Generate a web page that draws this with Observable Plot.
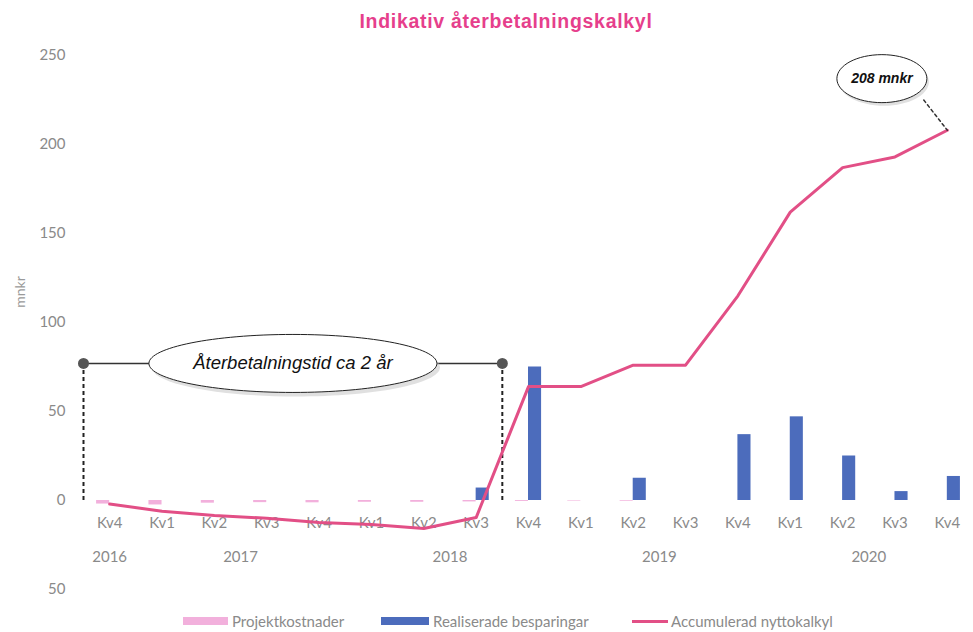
<!DOCTYPE html>
<html><head><meta charset="utf-8">
<script src="https://cdn.jsdelivr.net/npm/d3@7"></script>
<script src="https://cdn.jsdelivr.net/npm/@observablehq/plot@0.6"></script>
<style>
body{margin:0;background:#fff;}
#wrap{position:relative;width:973px;height:632px;overflow:hidden;font-family:Lato,"Open Sans",sans-serif;}
#title{position:absolute;top:9px;left:506px;transform:translateX(-50%);white-space:nowrap;font:bold 19.5px "Liberation Sans",Arial,sans-serif;color:#e63f8c;letter-spacing:0.7px;line-height:24px;}
#chart{position:absolute;top:40px;left:0;}
#ylabel{position:absolute;left:19px;top:292px;transform:translate(-50%,-50%) rotate(-90deg);font-size:14px;color:#9a9a9a;white-space:nowrap;}
.sw{position:absolute;}
.lt{position:absolute;font-size:15px;line-height:18px;color:#8a8a8a;white-space:nowrap;}
</style></head><body>
<div id="wrap">
  <div id="title">Indikativ återbetalningskalkyl</div>
  <div id="chart"></div>
  <div id="ylabel"></div>
  <div id="legend"></div>
</div>
<script>
// ---- data ----
const quarters = ["Kv4","Kv1","Kv2","Kv3","Kv4","Kv1","Kv2","Kv3","Kv4","Kv1","Kv2","Kv3","Kv4","Kv1","Kv2","Kv3","Kv4"];
const years    = [2016,2017,2017,2017,2017,2018,2018,2018,2018,2019,2019,2019,2019,2020,2020,2020,2020];
const projektkostnader      = [-2,-2.5,-1.5,-1.2,-1.3,-1,-1,-0.8,-0.5,-0.3,-0.4,0,0,0,0,0,0];
const realiseradeBesparingar = [0,0,0,0,0,0,0,7,75,0,12.5,0,37,47,25,5,13.5];
const accumuleradNyttokalkyl = [-2,-6,-8.4,-10,-12.4,-13.5,-15.7,-9.6,64,64,76,76,115,162,187,193,208];
const yTicks = [-50,0,50,100,150,200,250];
const yLabel = "mnkr";
const seriesNames = ["Projektkostnader","Realiserade besparingar","Accumulerad nyttokalkyl"];
const colors = {cost:"#f2b0dc", saving:"#4c6cbc", line:"#e24f86"};
const paybackLabel = "Återbetalningstid ca 2 år";
const paybackLevel = 77;      // mnkr level of the bracket
const paybackFrom = 0;        // first quarter index (2016 Kv4)
const paybackTo = 8;          // quarter where cumulative turns positive (2018 Kv4)
const finalCallout = {dx: -1.25, value: 237, leaderFrom: {dx: -0.45, value: 225}};

// ---- derived ----
const rows = quarters.map((q, i) => ({i, q, year: years[i], cost: projektkostnader[i], saving: realiseradeBesparingar[i], cum: accumuleradNyttokalkyl[i]}));
const yearRows = d3.groups(rows, d => d.year).map(([year, rs]) => ({year, x: d3.mean(rs, r => r.i)}));
const bw = 0.25;
const pStart = paybackFrom - 0.5, pEnd = paybackTo - 0.5;
const last = rows[rows.length - 1];
const callout = {x: last.i + finalCallout.dx, y: finalCallout.value, text: `${last.cum} mnkr`};
const leader = [{x: last.i + finalCallout.leaderFrom.dx, y: finalCallout.leaderFrom.value}, {x: last.i, y: last.cum}];

function ellipseSymbol(rx, ry) {
  const k = 0.5523;
  return {draw(ctx) {
    ctx.moveTo(rx, 0);
    ctx.bezierCurveTo(rx, ry * k, rx * k, ry, 0, ry);
    ctx.bezierCurveTo(-rx * k, ry, -rx, ry * k, -rx, 0);
    ctx.bezierCurveTo(-rx, -ry * k, -rx * k, -ry, 0, -ry);
    ctx.bezierCurveTo(rx * k, -ry, rx, -ry * k, rx, 0);
    ctx.closePath();
  }};
}

const plot = Plot.plot({
  width: 973,
  height: 565,
  marginLeft: 83,
  marginRight: 0,
  marginTop: 15,
  marginBottom: 16,
  style: {fontFamily: "Lato, 'Open Sans', sans-serif", fontSize: "15px", color: "#8a8a8a", background: "white"},
  x: {domain: [-0.5, rows.length - 0.5], axis: null},
  y: {domain: [-50, 250], ticks: yTicks, tickFormat: d => String(Math.abs(d)), tickSize: 0, tickPadding: 18, label: null},
  marks: [
    Plot.rect(rows.filter(d => d.cost !== 0), {x1: d => d.i - bw, x2: d => d.i, y1: () => 0, y2: "cost", fill: colors.cost}),
    Plot.rect(rows.filter(d => d.saving !== 0), {x1: d => d.i, x2: d => d.i + bw, y1: () => 0, y2: "saving", fill: colors.saving}),
    Plot.text(rows, {x: "i", y: () => 0, dy: 23, text: "q", fill: "#8a8a8a", fontSize: 15}),
    Plot.text(yearRows, {x: "x", y: () => 0, dy: 57, text: d => String(d.year), fill: "#8a8a8a", fontSize: 15}),
    // payback bracket
    Plot.ruleX([pStart, pEnd], {x: d => d, y1: () => paybackLevel, y2: () => 0, stroke: "#222", strokeWidth: 2, strokeDasharray: "4,3"}),
    Plot.ruleY([paybackLevel], {x1: () => pStart, x2: () => pEnd, y: d => d, stroke: "#333", strokeWidth: 1.5}),
    Plot.dot([pStart, pEnd], {x: d => d, y: () => paybackLevel, r: 5.5, fill: "#555", stroke: "none"}),
    Plot.line(rows, {x: "i", y: "cum", stroke: colors.line, strokeWidth: 3}),
    Plot.dot([{x: (pStart + pEnd) / 2, y: paybackLevel}], {x: "x", y: "y", r: 5, dx: 3, dy: 4, symbol: ellipseSymbol(144, 29), fill: "#ccc", fillOpacity: 0.6, stroke: "none"}),
    Plot.dot([{x: (pStart + pEnd) / 2, y: paybackLevel}], {x: "x", y: "y", r: 5, symbol: ellipseSymbol(144, 29), fill: "white", stroke: "#222", strokeWidth: 1}),
    Plot.text([{x: (pStart + pEnd) / 2, y: paybackLevel}], {x: "x", y: "y", text: () => paybackLabel, fontSize: 18.5, fontStyle: "italic", fontFamily: "'Liberation Sans', Arial, sans-serif", fill: "#111"}),
    // final value callout
    Plot.line(leader, {x: "x", y: "y", stroke: "#333", strokeWidth: 1.5, strokeDasharray: "3,3"}),
    Plot.dot([callout], {x: "x", y: "y", r: 5, dx: 2, dy: 3, symbol: ellipseSymbol(45, 24), fill: "#ccc", fillOpacity: 0.6, stroke: "none"}),
    Plot.dot([callout], {x: "x", y: "y", r: 5, symbol: ellipseSymbol(45, 24), fill: "white", stroke: "#222", strokeWidth: 1}),
    Plot.text([callout], {x: "x", y: "y", text: "text", fontSize: 14, fontWeight: "bold", fontStyle: "italic", fontFamily: "'Liberation Sans', Arial, sans-serif", fill: "#111"})
  ]
});
document.getElementById("chart").appendChild(plot);
document.getElementById("ylabel").textContent = yLabel;

// ---- legend ----
const lg = document.getElementById("legend");
const items = [
  {name: seriesNames[0], color: colors.cost, sw: [183, 617, 45, 8], tx: 232},
  {name: seriesNames[1], color: colors.saving, sw: [381, 617, 48, 8], tx: 433},
  {name: seriesNames[2], color: colors.line, sw: [632, 620, 36, 3], tx: 671}
];
for (const it of items) {
  const s = document.createElement("div");
  s.className = "sw";
  s.style.cssText = `left:${it.sw[0]}px;top:${it.sw[1]}px;width:${it.sw[2]}px;height:${it.sw[3]}px;background:${it.color};`;
  lg.appendChild(s);
  const t = document.createElement("div");
  t.className = "lt";
  t.style.cssText = `left:${it.tx}px;top:612px;`;
  t.textContent = it.name;
  lg.appendChild(t);
}
</script>
</body></html>
